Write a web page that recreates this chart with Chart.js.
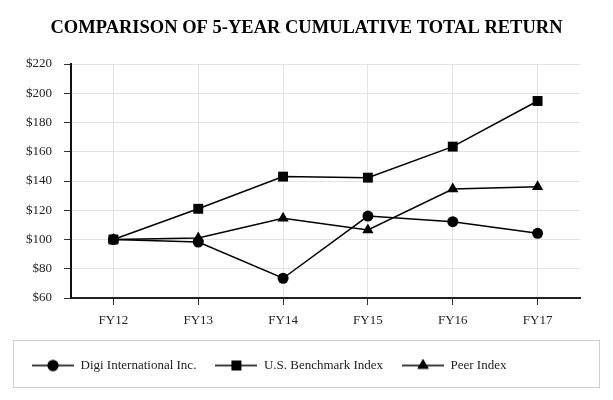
<!DOCTYPE html>
<html lang="en">
  <head>
    <meta charset="UTF-8" />
    <title>Comparison of 5-Year Cumulative Total Return</title>
    <script src="https://cdn.jsdelivr.net/npm/chart.js"></script>
    <style>
      body { margin: 0; background: #fff; }
      .wrap { width: 613px; height: 400px; }
    </style>
  </head>
  <body>
    <div class="wrap"><canvas id="returnChart" width="613" height="400"></canvas></div>
    <script>
      const chartTitle = "COMPARISON OF 5-YEAR CUMULATIVE TOTAL RETURN";
      const years = ["FY12", "FY13", "FY14", "FY15", "FY16", "FY17"];
      const seriesNames = ["Digi International Inc.", "U.S. Benchmark Index", "Peer Index"];
      const digi = [100, 98.3, 73.5, 116, 112.2, 104.2];
      const benchmark = [100, 121, 143, 142.3, 163.5, 194.7];
      const peer = [100, 101, 114.5, 106.5, 134.5, 136];
      const yMin = 60;
      const yMax = 220;
      const yStep = 20;

      const serif = '"Liberation Serif", "Times New Roman", serif';
      const markers = [
        { style: "circle", radius: 5.5 },
        { style: "rect", radius: 7 },
        { style: "triangle", radius: 6.5 },
      ];

      // little line+marker icons for the legend
      function legendIcon(m) {
        const c = document.createElement("canvas");
        c.width = 42;
        c.height = 14;
        const g = c.getContext("2d");
        g.strokeStyle = "#000";
        g.lineWidth = 1.5;
        g.beginPath();
        g.moveTo(0, 7);
        g.lineTo(42, 7);
        g.stroke();
        Chart.helpers.drawPoint(g, { pointStyle: m.style, radius: m.radius, rotation: 0, borderWidth: 0 }, 21, 7);
        g.fillStyle = "#000";
        g.fill();
        return c;
      }

      // title is a bit condensed in the original, so squeeze it with maxWidth
      const titlePlugin = {
        id: "titleText",
        afterDraw(chart) {
          const ctx = chart.ctx;
          ctx.save();
          ctx.font = "bold 19px " + serif;
          ctx.fillStyle = "#000";
          ctx.textAlign = "center";
          ctx.textBaseline = "alphabetic";
          ctx.fillText(chartTitle, chart.width / 2, 33, 512);
          ctx.restore();
        },
      };

      const legendFrame = {
        id: "legendFrame",
        afterDraw(chart) {
          const lg = chart.legend;
          const ctx = chart.ctx;
          ctx.save();
          ctx.strokeStyle = "#cfcfcf";
          ctx.lineWidth = 1;
          ctx.strokeRect(lg.left + 0.5, Math.round(lg.top) + 0.5, chart.width - 14 - lg.left, 47);
          ctx.restore();
        },
      };

      const datasets = [digi, benchmark, peer].map((vals, i) => ({
        label: seriesNames[i],
        data: vals,
        borderColor: "#000",
        backgroundColor: "#000",
        borderWidth: 1.5,
        pointStyle: markers[i].style,
        pointRadius: markers[i].radius,
        pointBorderWidth: 0,
        pointBackgroundColor: "#000",
        tension: 0,
        order: i === 1 ? -1 : i,
      }));

      new Chart(document.getElementById("returnChart"), {
        type: "line",
        data: { labels: years, datasets: datasets },
        options: {
          responsive: false,
          animation: false,
          devicePixelRatio: 1,
          layout: { padding: { top: 64, left: 13, right: 33, bottom: 18 } },
          plugins: {
            tooltip: { enabled: false },
            title: { display: false },
            legend: {
              position: "bottom",
              align: "start",
              labels: {
                usePointStyle: true,
                pointStyleWidth: 42,
                boxHeight: 14,
                padding: 19,
                color: "#222",
                font: { family: serif, size: 13 },
                generateLabels: (chart) =>
                  chart.data.datasets.map((ds, i) => ({
                    text: ds.label,
                    pointStyle: legendIcon(markers[i]),
                    datasetIndex: i,
                    fontColor: "#222",
                    lineWidth: 0,
                    strokeStyle: "transparent",
                    fillStyle: "transparent",
                    hidden: false,
                  })),
              },
            },
          },
          scales: {
            x: {
              offset: true,
              grid: { offset: false, color: "#e3e3e3", tickColor: "#333", tickLength: 7 },
              border: { color: "#222", width: 2 },
              ticks: { color: "#222", padding: 8, font: { family: serif, size: 13 } },
              afterFit: (s) => { s.height = 42; },
            },
            y: {
              min: yMin,
              max: yMax,
              grid: { color: "#e3e3e3", tickColor: "#333", tickLength: 7 },
              border: { color: "#111", width: 2 },
              ticks: {
                stepSize: yStep,
                color: "#222",
                padding: 12,
                font: { family: serif, size: 13 },
                callback: (v) => "$" + v,
              },
              afterFit: (s) => { s.width = 58; },
            },
          },
        },
        plugins: [titlePlugin, legendFrame],
      });
    </script>
  </body>
</html>
